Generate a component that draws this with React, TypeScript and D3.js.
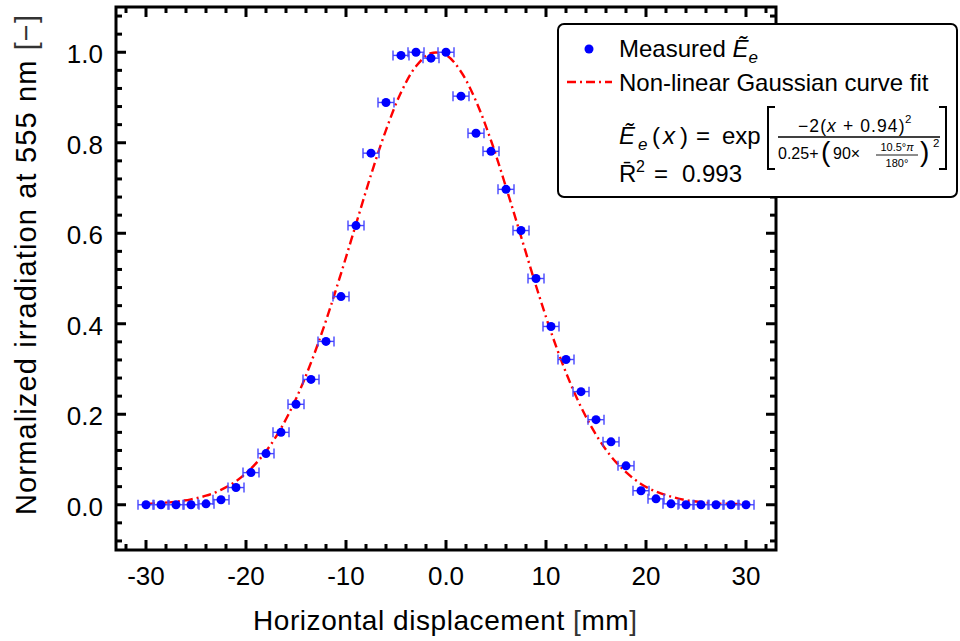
import React from 'react'
import * as d3 from 'd3'

const width = 960
const height = 641
const margin = { left: 116, right: 776, top: 7, bottom: 550 }

// measured points (x in mm, normalized irradiation)
const positions = [
  -30, -28.5, -27, -25.5, -24, -22.5, -21, -19.5, -18, -16.5, -15, -13.5, -12, -10.5,
  -9, -7.5, -6, -4.5, -3, -1.5, 0, 1.5, 3, 4.5, 6, 7.5, 9, 10.5, 12, 13.5, 15, 16.5,
  18, 19.5, 21, 22.5, 24, 25.5, 27, 28.5, 30,
]
const measured = [
  0.0, 0.0, 0.0, 0.0, 0.002, 0.011, 0.038, 0.071, 0.113, 0.16, 0.222, 0.277, 0.361, 0.46,
  0.617, 0.777, 0.889, 0.993, 1.0, 0.987, 1.0, 0.903, 0.821, 0.781, 0.697, 0.606, 0.5, 0.394,
  0.321, 0.25, 0.188, 0.139, 0.086, 0.031, 0.013, 0.002, 0.0, 0.0, 0.0, 0.0, 0.0,
]
const xError = 0.8

// fitted curve, read at the same positions
const fitValues = [
  0.002, 0.004, 0.007, 0.012, 0.02, 0.033, 0.052, 0.08, 0.118, 0.169, 0.234, 0.314, 0.407, 0.511,
  0.62, 0.729, 0.828, 0.911, 0.969, 0.998, 0.994, 0.957, 0.892, 0.805, 0.702, 0.593, 0.484, 0.382,
  0.292, 0.216, 0.155, 0.107, 0.072, 0.046, 0.029, 0.018, 0.01, 0.006, 0.003, 0.002, 0.001,
]

const xTicks = [-30, -20, -10, 0, 10, 20, 30]
const xTickLabels = ['-30', '-20', '-10', '0.0', '10', '20', '30']
const yTicks = [0, 0.2, 0.4, 0.6, 0.8, 1.0]

const font = 'Liberation Sans, Arial, Helvetica, sans-serif'
const blue = '#0000ff'
const barBlue = '#4646ff'
const red = '#ff0000'

const x = d3.scaleLinear().domain([-33, 33]).range([margin.left, margin.right])
const y = d3.scaleLinear().domain([-0.1, 1.1]).range([margin.bottom, margin.top])

const xMinor = d3.range(-32, 33, 2).filter(v => !xTicks.includes(v))
const yMinor = d3.range(-0.08, 1.1, 0.04).filter(v => yTicks.every(t => Math.abs(t - v) > 1e-6))

const fitLine = d3
  .line<number>()
  .x((_, i) => x(positions[i]))
  .y(d => y(d))
  .curve(d3.curveCatmullRom)

const fmtY = d3.format('.1f')

export default function App() {
  const tw = 3
  return (
    <svg width={width} height={height} style={{ position: 'absolute', left: 0, top: 0, background: '#fff' }}>
      <rect width={width} height={height} fill="#fff" />

      {/* fit curve */}
      <path
        d={fitLine(fitValues) || ''}
        fill="none"
        stroke={red}
        strokeWidth={2.4}
        strokeDasharray="9,4,2,4"
      />

      {/* error bars + points */}
      {positions.map((p, i) => {
        const cy = y(measured[i])
        const x0 = x(p - xError)
        const x1 = x(p + xError)
        return (
          <g key={i}>
            <line x1={x0} x2={x1} y1={cy} y2={cy} stroke={barBlue} strokeWidth={1.4} />
            <line x1={x0} x2={x0} y1={cy - 5} y2={cy + 5} stroke={barBlue} strokeWidth={1.4} />
            <line x1={x1} x2={x1} y1={cy - 5} y2={cy + 5} stroke={barBlue} strokeWidth={1.4} />
            <circle cx={x(p)} cy={cy} r={4.5} fill={blue} />
          </g>
        )
      })}

      {/* ticks */}
      <g stroke="#000" strokeWidth={tw}>
        {xTicks.map(t => (
          <g key={'xt' + t}>
            <line x1={x(t)} x2={x(t)} y1={margin.bottom} y2={margin.bottom - 10} />
            <line x1={x(t)} x2={x(t)} y1={margin.top} y2={margin.top + 10} />
          </g>
        ))}
        {xMinor.map(t => (
          <g key={'xm' + t}>
            <line x1={x(t)} x2={x(t)} y1={margin.bottom} y2={margin.bottom - 6} />
            <line x1={x(t)} x2={x(t)} y1={margin.top} y2={margin.top + 6} />
          </g>
        ))}
        {yTicks.map(t => (
          <g key={'yt' + t}>
            <line x1={margin.left} x2={margin.left + 10} y1={y(t)} y2={y(t)} />
            <line x1={margin.right} x2={margin.right - 10} y1={y(t)} y2={y(t)} />
          </g>
        ))}
        {yMinor.map(t => (
          <g key={'ym' + t}>
            <line x1={margin.left} x2={margin.left + 6} y1={y(t)} y2={y(t)} />
            <line x1={margin.right} x2={margin.right - 6} y1={y(t)} y2={y(t)} />
          </g>
        ))}
      </g>

      {/* frame */}
      <rect
        x={margin.left}
        y={margin.top}
        width={margin.right - margin.left}
        height={margin.bottom - margin.top}
        fill="none"
        stroke="#000"
        strokeWidth={3}
      />

      {/* tick labels */}
      <g fontFamily={font} fontSize={26} fill="#000">
        {xTicks.map((t, i) => (
          <text key={'xl' + t} x={x(t)} y={585} textAnchor="middle">
            {xTickLabels[i]}
          </text>
        ))}
        {yTicks.map(t => (
          <text key={'yl' + t} x={103} y={y(t) + 11} textAnchor="end">
            {fmtY(t)}
          </text>
        ))}
      </g>

      {/* axis titles */}
      <text x={253} y={630} fontFamily={font} fontSize={28} textLength={384} lengthAdjust="spacing">
        Horizontal displacement <tspan fill="#333">[</tspan>mm<tspan fill="#333">]</tspan>
      </text>
      <text
        transform="translate(36,515) rotate(-90)"
        fontFamily={font}
        fontSize={29}
        textLength={500}
        lengthAdjust="spacing"
      >
        Normalized irradiation at 555 nm <tspan fill="#333">[−]</tspan>
      </text>

      {/* legend */}
      <g fontFamily={font} fill="#000">
        <rect x={558} y={24} width={399} height={173} rx={6} fill="#fff" stroke="#000" strokeWidth={2} />
        <circle cx={589} cy={49} r={4.5} fill={blue} />
        <text x={619} y={57} fontSize={24}>
          Measured <tspan fontStyle="italic">Ẽ</tspan>
          <tspan fontStyle="italic" fontSize={17} dy={6}>e</tspan>
        </text>
        <line x1={567} x2={612} y1={82} y2={82} stroke={red} strokeWidth={2.4} strokeDasharray="9,4,2,4" />
        <text x={619} y={91} fontSize={24}>
          Non-linear Gaussian curve fit
        </text>

        {/* formula */}
        <g fontSize={24}>
          <text x={619} y={144} fontStyle="italic">Ẽ</text>
          <text x={638} y={150} fontSize={17} fontStyle="italic">e</text>
          <text x={652} y={144} fontWeight={300}>(</text>
          <text x={663} y={144} fontStyle="italic">x</text>
          <text x={680} y={144} fontWeight={300}>)</text>
          <text x={696} y={144}>=</text>
          <text x={722} y={144}>exp</text>
        </g>
        <path d="M775,107 H768 V169 H775" fill="none" stroke="#000" strokeWidth={2} />
        <path d="M939,107 H946 V169 H939" fill="none" stroke="#000" strokeWidth={2} />
        <text x={798} y={132} fontSize={17.5} letterSpacing={1.1}>
          −2(<tspan fontStyle="italic">x</tspan> + 0.94)
        </text>
        <text x={905} y={123} fontSize={11.5}>
          2
        </text>
        <line x1={778} x2={940} y1={137} y2={137} stroke="#000" strokeWidth={1.3} />
        <text x={778} y={159} fontSize={16}>
          0.25+
        </text>
        <text x={821} y={161} fontSize={28} fontWeight={300}>
          (
        </text>
        <text x={833} y={159} fontSize={16}>
          90×
        </text>
        <text x={897} y={151} fontSize={11} textAnchor="middle">
          10.5°<tspan fontStyle="italic">π</tspan>
        </text>
        <line x1={876} x2={918} y1={155} y2={155} stroke="#000" strokeWidth={0.9} />
        <text x={897} y={167} fontSize={11} textAnchor="middle">
          180°
        </text>
        <text x={920} y={161} fontSize={28} fontWeight={300}>
          )
        </text>
        <text x={933} y={147} fontSize={11.5}>
          2
        </text>
        <g fontSize={24}>
          <text x={619} y={182}>R̄</text>
          <text x={636} y={172} fontSize={16}>2</text>
          <text x={654} y={182}>=</text>
          <text x={682} y={182}>0.993</text>
        </g>
      </g>
    </svg>
  )
}
